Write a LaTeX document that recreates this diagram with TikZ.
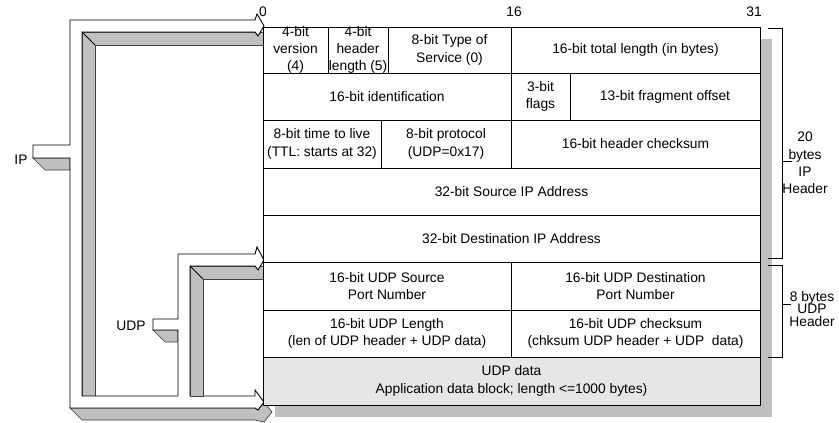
\documentclass[tikz,border=0pt]{standalone}
\usepackage{fontspec}
\setmainfont{Liberation Sans}
\definecolor{facegray}{RGB}{192,192,192}
\definecolor{datagray}{RGB}{230,230,230}
\tikzset{
  cell/.style={font=\fontsize{13.8}{17.3}\selectfont, align=center, inner sep=0pt},
  box/.style={draw=black, line width=1pt, fill=white},
  face/.style={fill=facegray, draw=black!75, line width=0.7pt},
  edge/.style={draw=black, line width=0.9pt},
}
\begin{document}
\begin{tikzpicture}[x=1pt, y=-1pt]
\useasboundingbox (0,0) rectangle (839,423);

% Shadow behind the header block
\fill[facegray] (275,39) rectangle (772,417);

% IP arrow (3D bracket)
\draw[face] (82,32) -- (263,32) -- (263,45) -- (95,45) -- (95,396) -- (82,396) -- cycle;
\draw[face] (33,158) -- (45,170) -- (70,170) -- (70,158) -- cycle;
\draw[face] (70,408) -- (255,408) -- (258,410) -- (264,402) -- (272,412) -- (264,422) -- (255,420) -- (82,420) -- cycle;
\draw[edge, fill=white] (70,20) -- (255,20) -- (257,14) -- (264,26) -- (258,36) -- (255,32) -- (82,32) -- (82,396) -- (255,396) -- (255,390) -- (264,402) -- (258,410) -- (255,408) -- (70,408) -- (70,158) -- (33,158) -- (33,145) -- (70,145) -- cycle;
\draw[edge] (82,32) -- (95,45);

% UDP arrow (3D bracket)
\draw[face] (190,266) -- (263,266) -- (263,279) -- (203,279) -- (203,396) -- (190,396) -- cycle;
\draw[face] (153,330) -- (165,342) -- (178,342) -- (178,330) -- cycle;
\fill[white] (178,254) -- (255,254) -- (257,247) -- (264,260) -- (258,270) -- (255,266) -- (190,266) -- (190,397) -- (178,397) -- (178,330) -- (153,330) -- (153,319) -- (178,319) -- cycle;
\draw[edge] (178,396) -- (178,330) -- (153,330) -- (153,319) -- (178,319) -- (178,254) -- (255,254) -- (257,247) -- (264,260) -- (258,270) -- (255,266) -- (190,266) -- (190,396);
\draw[edge] (190,266) -- (203,279);

% Draw the header cells and insert the fields
\draw[box] (263,27) rectangle +(65,46);
\node[cell] (ver) at (295.5,50) {4-bit\\version\\(4)};
\draw[box] (328,27) rectangle +(60,46);
\node[cell] (hlen) at (358,50) {4-bit\\header\\length (5)};
\draw[box] (388,27) rectangle +(123,46);
\node[cell] (tos) at (449.5,50) {8-bit Type of\\Service (0)};
\draw[box] (511,27) rectangle +(249,46);
\node[cell] (tlen) at (635.5,50) {16-bit total length (in bytes)};
\draw[box] (263,73) rectangle +(248,47);
\node[cell] (ident) at (387,96.5) {16-bit identification};
\draw[box] (511,73) rectangle +(59,47);
\node[cell] (flags) at (540.5,96.5) {3-bit\\flags};
\draw[box] (570,73) rectangle +(190,47);
\node[cell] (frag) at (665,96.5) {13-bit fragment offset};
\draw[box] (263,120) rectangle +(118,48);
\node[cell] (ttl) at (322,144) {8-bit time to live\\(TTL: starts at 32)};
\draw[box] (381,120) rectangle +(130,48);
\node[cell] (proto) at (446,144) {8-bit protocol\\(UDP=0x17)};
\draw[box] (511,120) rectangle +(249,48);
\node[cell] (hcsum) at (635.5,144) {16-bit header checksum};
\draw[box] (263,168) rectangle +(497,47);
\node[cell] (srcip) at (511.5,191.5) {32-bit Source IP Address};
\draw[box] (263,215) rectangle +(497,47);
\node[cell] (dstip) at (511.5,238.5) {32-bit Destination IP Address};
\draw[box] (263,262) rectangle +(248,48);
\node[cell] (sport) at (387,286) {16-bit UDP Source\\Port Number};
\draw[box] (511,262) rectangle +(249,48);
\node[cell] (dport) at (635.5,286) {16-bit UDP Destination\\Port Number};
\draw[box] (263,310) rectangle +(248,47);
\node[cell] (ulen) at (387,333.5) {16-bit UDP Length\\(len of UDP header + UDP data)};
\draw[box] (511,310) rectangle +(249,47);
\node[cell] (ucsum) at (635.5,333.5) {16-bit UDP checksum\\(chksum UDP header + UDP\ \ data)};
\draw[box, fill=datagray] (263,357) rectangle +(497,48);
\node[cell] (udata) at (511.5,381) {UDP data\\Application data block; length <=1000 bytes)};

% Bit positions
\node[cell] (b0) at (263,12) {0};
\node[cell] (b16) at (514,12) {16};
\node[cell] (b31) at (754,12) {31};

% Layer labels
\node[cell] (iplbl) at (21,160) {IP};
\node[cell] (udplbl) at (131,326) {UDP};

% Header size brackets
\coordinate (iptick) at (782,161);
\coordinate (udptick) at (782,304);
\draw[edge, line width=0.8pt] (768,28) -- (782,28) -- (782,258) -- (768,258);
\draw[edge, line width=0.8pt] (iptick) -- ++(10,0);
\node[cell] (iphdr) at (805,163) {20\\bytes\\IP\\Header};
\draw[edge, line width=0.8pt] (768,265) -- (782,265) -- (782,357) -- (768,357);
\draw[edge, line width=0.8pt] (udptick) -- ++(9,0);
\node[cell, font=\fontsize{13.8}{12.5}\selectfont] (udphdr) at (812,309) {8 bytes\\UDP\\Header};
\end{tikzpicture}
\end{document}
